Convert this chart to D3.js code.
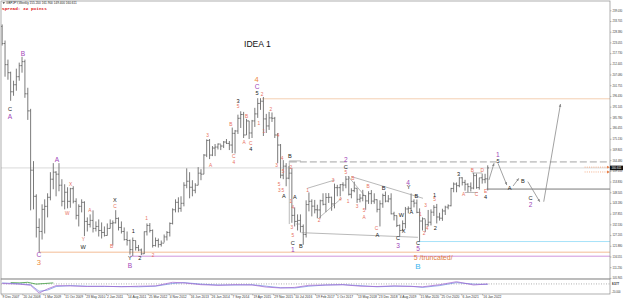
<!DOCTYPE html>
<html>
<head>
<meta charset="utf-8">
<script src="https://cdn.jsdelivr.net/npm/d3@7"></script>
<style>
  body { margin: 0; background: #fff; }
  #graf svg { display: block; font-family: "Liberation Sans", Arial, sans-serif; }
</style>
</head>
<body>
<div id="graf"></div>
<script>
// I. Datos (barras mensuales GBPJPY, dic 2007 - mar 2022)

const firstOpen = 231.0
const barHigh = [232.0,224.0,214.5,208.5,204.0,210.0,213.0,215.9,214.5,200.5,190.0,164.0,147.5,135.5,142.5,145.0,148.0,158.5,163.0,159.0,
  163.0,155.0,152.5,151.0,150.7,151.5,145.5,142.5,145.0,144.0,136.0,137.5,139.5,134.0,135.0,133.5,131.5,133.0,135.0,134.5,
  139.6,136.0,134.0,131.0,129.0,125.0,126.0,124.5,122.3,120.5,129.0,133.0,133.2,130.0,126.0,125.5,124.5,127.5,129.2,133.5,
  140.5,145.0,146.0,146.5,153.5,160.4,158.5,154.5,153.0,161.0,160.0,167.5,174.8,175.0,171.5,172.5,172.8,172.3,174.0,175.0,
  174.0,180.7,179.5,187.1,188.8,188.5,185.0,184.0,184.5,190.5,195.3,195.3,195.9,187.5,188.5,188.2,186.0,178.0,172.5,164.5,
  163.0,161.5,160.6,141.0,137.5,137.5,132.5,144.5,148.4,145.0,144.7,142.3,144.8,148.0,148.1,148.1,146.3,152.8,152.2,152.6,
  153.5,156.6,156.6,150.5,153.8,150.5,147.6,149.7,147.0,149.0,149.6,148.0,145.0,144.5,147.8,148.9,147.1,148.0,138.8,137.0,
  132.5,134.5,141.2,141.5,147.9,145.0,144.9,140.5,136.0,135.0,139.7,140.0,142.1,142.7,138.3,140.3,141.8,142.5,150.7,153.4,
  153.4,156.0,156.0,154.7,153.0,153.4,158.2,157.8,155.7,157.8,157.7,161.9]
const barLow = [221.5,206.0,204.5,194.0,196.5,199.0,204.0,208.0,195.5,184.5,139.5,140.0,126.0,118.8,125.0,128.0,136.0,144.5,150.0,146.5,
  149.0,141.5,140.0,140.5,140.8,143.0,135.0,131.5,138.5,126.7,129.0,131.0,128.5,129.0,126.5,125.5,126.5,127.0,130.5,122.0,
  133.0,129.5,128.0,124.5,122.0,117.5,116.8,119.5,119.2,117.3,117.8,127.0,128.5,121.0,121.5,121.0,121.5,123.5,124.5,126.5,
  132.5,138.5,138.5,138.8,141.5,150.5,145.5,146.5,148.0,152.0,154.5,157.5,166.0,165.0,166.5,166.5,169.8,169.5,170.5,172.5,
  169.5,168.0,167.8,177.5,180.5,175.5,177.0,175.0,175.5,181.0,185.5,189.5,176.5,178.0,179.5,183.5,175.5,163.0,155.5,155.0,
  151.5,155.0,133.3,131.5,129.5,128.5,122.4,126.0,139.0,136.5,138.0,135.6,135.5,142.0,138.6,143.2,139.3,140.5,146.5,146.5,
  149.0,150.5,146.9,145.5,148.5,143.2,143.5,144.0,139.8,142.7,142.6,142.8,138.5,131.5,140.8,143.5,143.5,137.5,134.5,131.2,
  126.6,129.0,130.5,138.0,139.3,141.0,138.1,124.0,129.5,128.7,131.5,132.0,136.7,133.0,134.4,134.3,137.2,140.0,141.5,148.5,
  148.5,151.0,151.9,149.3,148.5,148.9,150.0,150.3,149.8,152.8,153.0,149.4]
const barClose = [222.5,212.0,208.0,198.5,202.0,206.0,211.5,213.5,197.5,189.0,159.5,146.5,131.0,129.0,140.0,141.5,146.0,155.0,158.5,157.5,
  152.0,144.0,148.5,144.0,150.3,144.0,137.0,141.5,143.5,134.0,132.5,134.5,130.5,131.5,129.5,128.5,127.0,130.5,133.0,133.3,
  135.5,131.0,129.0,125.0,124.5,120.0,124.5,121.0,119.8,117.9,128.9,132.0,129.5,122.0,124.5,122.5,123.2,126.3,128.5,133.0,
  139.8,143.5,140.5,143.0,152.0,154.0,151.0,149.5,152.0,158.0,157.5,167.0,174.3,167.0,170.5,171.0,172.5,171.5,173.5,172.8,
  172.0,177.8,179.0,185.3,187.2,177.0,184.0,178.0,184.0,187.5,192.7,193.8,185.0,181.5,185.5,185.3,177.0,172.0,157.0,161.5,
  155.5,158.0,137.0,134.0,134.5,131.5,127.5,142.4,144.0,141.6,139.8,139.7,144.3,142.5,145.9,146.0,142.7,150.8,150.8,152.3,
  152.1,155.0,147.5,149.3,150.5,145.0,145.6,146.9,144.2,147.8,144.1,144.8,140.0,142.8,146.9,144.1,145.2,137.8,136.9,132.0,
  129.5,132.9,140.2,140.5,144.0,143.1,138.5,134.2,135.3,132.4,133.6,138.6,141.0,136.2,135.6,139.2,141.1,141.8,150.4,152.6,
  151.8,155.7,153.4,152.5,151.3,150.6,156.8,150.8,155.7,154.8,155.2,160.611]

const priceTicks = [239.030,233.705,228.380,223.055,217.730,212.405,207.080,201.755,196.430,191.105,185.780,180.455,175.130,
  169.805,164.480,159.155,153.830,148.505,143.180,137.855,132.530,127.205,121.880,116.555,111.230,105.905]
const dateTicks = ['9 Dec 2007','20 Jul 2008','1 Mar 2009','11 Oct 2009','23 May 2010','2 Jan 2011','14 Aug 2011','25 Mar 2012',
  '4 Nov 2012','16 Jun 2013','26 Jan 2014','7 Sep 2014','19 Apr 2015','29 Nov 2015','10 Jul 2016','19 Feb 2017','1 Oct 2017',
  '13 May 2018','23 Dec 2018','4 Aug 2019','15 Mar 2020','25 Oct 2020','6 Jun 2021','16 Jan 2022']

// niveles horizontales: [precio, mes de inicio, color, trazo]
const levels = [
  [195.0, 91.5, '#f3c9a8', null],
  [163.6, 101.3, '#9a9a9a', '7,3'],
  [150.1, 170.6, '#6a6a6a', null],
  [124.0, 146.4, '#9ee0f8', null],
  [118.7, 13.0, '#f2b48a', null],
  [116.7, 45.0, '#c98ad9', null]
]
const orderLevels = [161.0, 158.6]

// lineas de tendencia [[mes, precio], [mes, precio]]
const trendLines = [
  [[107.5, 150.5], [117.1, 154.6]],
  [[111.5, 135.7], [119.6, 145.6]],
  [[123.0, 156.3], [148.2, 145.5]],
  [[105.4, 128.4], [146.4, 126.1]],
  [[121.7, 156.6], [128.0, 146.2]],
  [[162.9, 148.4], [167.5, 148.4]],
  [[165.4, 158.1], [169.0, 158.1]],
  [[101.1, 164.1], [101.1, 132.7]],
  [[101.1, 164.1], [105.2, 164.1]],
  [[103.5, 132.7], [105.2, 132.7]]
]

// proyeccion (idea 1)
const projection = [
  [[171.4, 154.6], [173.2, 162.9]],
  [[174.6, 162.9], [177.7, 152.1]],
  [[179.9, 151.6], [181.9, 155.4]],
  [[185.1, 153.8], [189.3, 143.8]],
  [[190.7, 143.8], [196.6, 192.4]]
]

// etiquetas de ondas [mes, precio, texto, tipo]
const waveLabels = [
  [7.34,217.6,'B','pur'],[2.76,189.8,'C','blk'],[2.76,186.1,'A','pur'],[12.97,117.6,'C','pur'],[12.97,113.7,'3','org'],
  [19.3,164.6,'A','pur'],[24.12,152.6,'X','red'],[22.92,137.7,'W','red'],[30.91,139.3,'A','red'],[28.55,125.1,'Y','red'],
  [28.55,121.4,'W','blk'],[39.71,144.7,'X','blk'],[39.71,141.3,'C','red'],[38.55,121.4,'B','red'],[46.15,129.4,'1','blk'],
  [44.99,115.6,'Y','blk'],[44.99,112.0,'B','pur'],[48.5,115.6,'2','blk'],[50.86,135.5,'1','red'],[53.18,116.8,'2','red'],
  [89.57,204.4,'4','org'],[89.78,201.0,'C','pur'],[89.78,197.7,'5','blk'],[91.54,197.2,'2','red'],[83.09,194.1,'3','blk'],
  [83.09,191.1,'5','red'],[80.52,182.0,'B','red'],[72.33,176.5,'3','red'],[73.38,161.6,'A','red'],[81.58,166.2,'C','red'],
  [81.58,163.4,'4','red'],[86.05,186.1,'B','red'],[85.2,173.4,'A','red'],[87.56,172.9,'C','red'],[87.56,170.0,'4','blk'],
  [90.38,182.5,'1','red'],[92.14,178.6,'1','red'],[94.6,189.8,'2','red'],[97.17,176.7,'4','red'],[98.58,165.1,'4','red'],
  [96.6,161.6,'3','red'],[98.93,158.7,'5','red'],[97.52,152.6,'5','red'],[97.59,149.6,'3','red'],[98.82,149.6,'5','red'],
  [99.17,146.7,'A','blk'],[101.28,166.7,'B','blk'],[101.64,160.6,'2','red'],[103.04,146.2,'A','blk'],[101.64,143.7,'1','red'],
  [102.33,140.7,'4','red'],[101.98,131.2,'3','red'],[102.33,126.8,'5','red'],[102.33,123.3,'C','blk'],[102.33,120.1,'1','pur'],
  [105.15,121.8,'B','blk'],[107.51,149.6,'1','red'],[111.59,134.4,'2','red'],[116.52,154.6,'3','red'],[119.12,144.7,'4','red'],
  [120.99,164.6,'2','pur'],[120.99,161.2,'C','blk'],[120.99,158.2,'5','red'],[123.45,155.6,'B','red'],[121.8,143.8,'1','red'],
  [124.96,141.3,'3','red'],[127.43,139.3,'5','red'],[127.43,136.1,'A','red'],[128.83,151.3,'B','red'],[134.36,150.5,'B','blk'],
  [131.79,130.6,'C','red'],[132.14,127.3,'A','blk'],[139.39,125.6,'C','blk'],[139.39,121.8,'3','pur'],[140.59,137.2,'W','blk'],
  [141.4,129.4,'X','blk'],[142.91,153.5,'4','pur'],[143.16,151.0,'Y','blk'],[145.87,146.7,'B','blk'],[144.11,138.8,'A','blk'],
  [147.27,137.2,'1','red'],[149.14,141.7,'3','red'],[148.54,128.1,'2','red'],[149.59,130.6,'4','red'],[152.3,147.2,'1','blk'],
  [152.3,144.7,'5','red'],[152.55,130.9,'2','blk'],[146.43,123.1,'C','blk'],[146.43,120.3,'5','pur'],[146.43,111.5,'B','cyan'],
  [160.75,157.4,'3','blk'],[162.51,147.2,'A','red'],[165.57,159.2,'B','red'],[166.98,147.2,'C','red'],[169.09,159.1,'D','red'],
  [170.25,149.1,'E','red'],[170.25,146.3,'4','blk'],[174.58,167.1,'1','pur'],[174.58,164.2,'5','blk'],[178.7,150.5,'A','blk'],
  [183.38,154.3,'B','blk'],[186.09,145.5,'C','blk'],[186.09,142.2,'2','pur']
]
const truncatedLabel = [144.9, 116.2, '5 /truncated/']

// indicador (subventana)
const indMonths = [0,6,10,13,16,19,24,30,36,42,48,54,60,64,70,76,82,88,93,98,103,108,114,120,126,132,138,144,148,154,160,166,171]
const indPurple = [10,8,4,-22,-8,3,2,0,1,-1,1,2,14,12,6,4,6,5,-2,-5,-3,4,5,6,1,0,2,0,-1,6,16,5,8.6]
const indBlue = [12,9,6,-16,-12,0,3,1,0,0,-1,1,10,13,8,5,5,6,1,-4,-5,1,5,6,3,-1,1,1,-3,3,13,8,7]
const greenMonths = [3,6,9,12,15,18]
const indGreen = [13,12,14,8,10,12]
const indLast = 8.577

const labelStyle = {
  red: { c: '#e8705e', s: 4.8 },
  blk: { c: '#1a1a1a', s: 5.6 },
  pur: { c: '#a046b8', s: 6.6 },
  org: { c: '#ee8a3c', s: 7.6 },
  cyan: { c: '#3cb4ee', s: 8 }
}

// II. Configuracion
const W = 625, H = 301
const right = 610, mainTop = 1, mainBottom = 279, subBottom = 294

const svg = d3.select('#graf').append('svg').attr('width', W).attr('height', H)
svg.append('rect').attr('width', W).attr('height', H).attr('fill', '#fff')

const parseD = d3.timeParse('%d %b %Y')
const x = d3.scaleTime().domain([parseD(dateTicks[0]), parseD(dateTicks[dateTicks.length - 1])]).range([1.5, 482.2])
const y = d3.scaleLinear().domain([priceTicks[priceTicks.length - 1], priceTicks[0]]).range([277.9, 10.3])
const yi = d3.scaleLinear().domain([-20, 20]).range([292.5, 280.5])

const m0 = new Date(2007, 11, 16).getTime()
const at = m => x(new Date(m0 + m * 30.4375 * 864e5))

const defs = svg.append('defs')
defs.append('clipPath').attr('id', 'clipMain').append('rect')
  .attr('x', 1).attr('y', mainTop).attr('width', right - 1).attr('height', mainBottom - mainTop)
defs.append('clipPath').attr('id', 'clipSub').append('rect')
  .attr('x', 1).attr('y', mainBottom).attr('width', right - 1).attr('height', subBottom - mainBottom)
defs.append('marker').attr('id', 'arr').attr('viewBox', '0 0 10 10').attr('refX', 9).attr('refY', 5)
  .attr('markerWidth', 4).attr('markerHeight', 4).attr('orient', 'auto-start-reverse')
  .append('path').attr('d', 'M0,1L10,5L0,9z').attr('fill', '#8a8a8a')

const g = svg.append('g').attr('clip-path', 'url(#clipMain)')

// niveles
g.selectAll('.lvl').data(levels).join('line')
  .attr('x1', d => at(d[1])).attr('x2', right)
  .attr('y1', d => y(d[0])).attr('y2', d => y(d[0]))
  .attr('stroke', d => d[2]).attr('stroke-width', 0.9)
  .attr('stroke-dasharray', d => d[3])

// linea bid
const last = barClose[barClose.length - 1]
g.append('line').attr('x1', 1).attr('x2', right).attr('y1', y(last)).attr('y2', y(last))
  .attr('stroke', '#cfcfcf').attr('stroke-width', 0.8)

g.selectAll('.ord').data(orderLevels).join('line')
  .attr('x1', at(205.1)).attr('x2', right - 2)
  .attr('y1', d => y(d)).attr('y2', d => y(d))
  .attr('stroke', '#f2a072').attr('stroke-width', 0.8).attr('stroke-dasharray', '1,1.2')
g.selectAll('.ordm').data(orderLevels).join('path')
  .attr('d', d => `M${right - 3},${y(d) - 1.4}L${right},${y(d)}L${right - 3},${y(d) + 1.4}z`)
  .attr('fill', '#e8804a')

// barras OHLC
const bars = barHigh.map((h, i) => ({
  date: new Date(2007, 11 + i, 16), high: h, low: barLow[i], close: barClose[i],
  open: i ? barClose[i - 1] : firstOpen
}))
g.append('g').selectAll('path').data(bars).join('path')
  .attr('d', d => {
    const cx = x(d.date)
    return `M${cx},${y(d.low)}V${y(d.high)}M${cx - 1.3},${y(d.open)}H${cx}M${cx},${y(d.close)}H${cx + 1.3}`
  })
  .attr('stroke', '#6c6c6c').attr('stroke-width', 0.9).attr('fill', 'none')

// tendencias y proyeccion
g.selectAll('.tl').data(trendLines).join('line')
  .attr('x1', d => at(d[0][0])).attr('y1', d => y(d[0][1]))
  .attr('x2', d => at(d[1][0])).attr('y2', d => y(d[1][1]))
  .attr('stroke', '#8a8a8a').attr('stroke-width', 0.6)

g.selectAll('.pr').data(projection).join('line')
  .attr('x1', d => at(d[0][0])).attr('y1', d => y(d[0][1]))
  .attr('x2', d => at(d[1][0])).attr('y2', d => y(d[1][1]))
  .attr('stroke', '#8a8a8a').attr('stroke-width', 0.8).attr('marker-end', 'url(#arr)')

// etiquetas
g.selectAll('.wl').data(waveLabels).join('text')
  .attr('x', d => at(d[0])).attr('y', d => y(d[1]))
  .attr('text-anchor', 'middle').attr('dominant-baseline', 'central')
  .attr('fill', d => labelStyle[d[3]].c).attr('font-size', d => labelStyle[d[3]].s)
  .text(d => d[2])
g.append('text').attr('x', at(truncatedLabel[0])).attr('y', y(truncatedLabel[1]))
  .attr('dominant-baseline', 'central').attr('fill', '#e07c3e').attr('font-size', 7)
  .text(truncatedLabel[2])

svg.append('text').attr('x', 244).attr('y', 46.5).attr('font-size', 8.6).attr('fill', '#111').text('IDEA 1')

// subventana indicador
const gs = svg.append('g').attr('clip-path', 'url(#clipSub)')
gs.append('line').attr('x1', 1).attr('x2', right).attr('y1', yi(indLast)).attr('y2', yi(indLast))
  .attr('stroke', '#777').attr('stroke-width', 0.6).attr('stroke-dasharray', '1,1.5')
const ind = (ms, vals) => d3.line().x((d, i) => at(ms[i])).y(d => yi(d))(vals)
gs.append('path').attr('d', ind(greenMonths, indGreen)).attr('fill', 'none').attr('stroke', '#3a9a3a').attr('stroke-width', 0.8)
gs.append('path').attr('d', ind(indMonths, indBlue)).attr('fill', 'none').attr('stroke', '#6a86e0').attr('stroke-width', 0.7)
gs.append('path').attr('d', ind(indMonths, indPurple)).attr('fill', 'none').attr('stroke', '#a060d0').attr('stroke-width', 0.7)

// marcos
svg.append('rect').attr('x', 1).attr('y', mainTop).attr('width', right - 1).attr('height', mainBottom - mainTop)
  .attr('fill', 'none').attr('stroke', '#8c8c8c').attr('stroke-width', 0.7)
svg.append('rect').attr('x', 1).attr('y', mainBottom).attr('width', right - 1).attr('height', subBottom - mainBottom)
  .attr('fill', 'none').attr('stroke', '#8c8c8c').attr('stroke-width', 0.7)

// ejes
const yAxis = svg.append('g').attr('transform', `translate(${right},0)`)
  .call(d3.axisRight(y).tickValues(priceTicks).tickFormat(d3.format('.3f')).tickSize(1.5))
yAxis.select('.domain').remove()
yAxis.selectAll('line').attr('stroke', '#777').attr('stroke-width', 0.5)
yAxis.selectAll('text').attr('x', 2.6).attr('font-size', 2.7).attr('fill', '#333')

const xAxis = svg.append('g').attr('transform', `translate(0,${subBottom})`)
  .call(d3.axisBottom(x).tickValues(dateTicks.map(parseD)).tickFormat(d3.timeFormat('%-d %b %Y')).tickSize(1.5))
xAxis.select('.domain').remove()
xAxis.selectAll('line').attr('stroke', '#777').attr('stroke-width', 0.5)
xAxis.selectAll('text').attr('x', 0.6).attr('y', 3.6).attr('dy', 0).attr('text-anchor', 'start')
  .attr('font-size', 3.3).attr('fill', '#333')

// etiqueta precio actual
svg.append('rect').attr('x', right).attr('y', y(last) - 2.3).attr('width', 13).attr('height', 4.6).attr('fill', '#111')
svg.append('text').attr('x', right + 1.5).attr('y', y(last)).attr('dominant-baseline', 'central')
  .attr('font-size', 2.8).attr('fill', '#fff').text(d3.format('.3f')(last))

svg.append('text').attr('x', right + 2).attr('y', yi(indLast)).attr('dominant-baseline', 'central')
  .attr('font-size', 2.8).attr('font-weight', 'bold').attr('fill', '#222').text(d3.format('.3f')(indLast))
svg.append('text').attr('x', right + 1.5).attr('y', yi(-20)).attr('dominant-baseline', 'central')
  .attr('font-size', 2.7).attr('fill', '#333').text('-20.000')

// cabecera
svg.append('path').attr('d', 'M2.5,2.2L5,2.2L3.75,4z').attr('fill', '#333')
svg.append('text').attr('x', 6).attr('y', 4.4).attr('font-size', 3.1).attr('fill', '#222')
  .text('GBPJPY,Weekly  155.200 161.900 149.400 ' + d3.format('.3f')(last))
svg.append('text').attr('x', 2).attr('y', 9.8).attr('font-size', 4.4).attr('font-weight', 'bold')
  .attr('font-family', '"Liberation Mono", monospace').attr('fill', '#e02020').text('Spread: 32 points')
</script>
</body>
</html>
